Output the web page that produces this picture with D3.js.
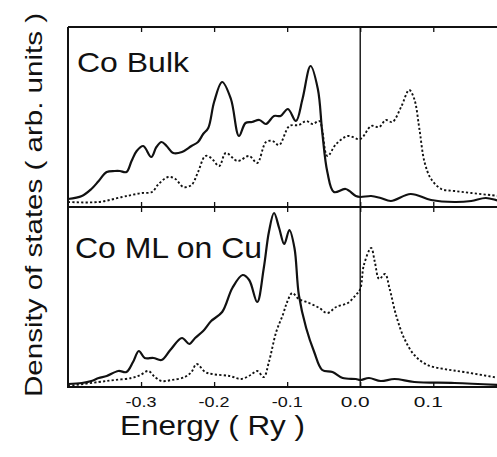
<!DOCTYPE html>
<html>
<head>
<meta charset="utf-8">
<script src="https://d3js.org/d3.v7.min.js"></script>
<style>
  html, body { margin: 0; padding: 0; background: #fff; }
  svg { display: block; font-family: "Liberation Sans", Arial, Helvetica, sans-serif; }
</style>
</head>
<body>
<div id="chart"></div>
<script>
// Density of states, Co bulk vs Co monolayer on Cu
// values (arb. units, 0 = panel baseline)

const tickValues = [-0.3, -0.2, -0.1, 0.0, 0.1];
const tickLabels = ["-0.3", "-0.2", "-0.1", "0.0", "0.1"];

// Co Bulk, solid curve
const bulkSolidE = [-0.400,-0.381,-0.368,-0.358,-0.347,-0.336,-0.329,-0.320,-0.313,-0.306,-0.297,-0.286,-0.279,-0.272,-0.265,-0.256,-0.244,-0.231,-0.222,-0.215,-0.208,-0.200,-0.189,-0.177,-0.166,-0.157,-0.148,-0.138,-0.129,-0.118,-0.109,-0.099,-0.088,-0.079,-0.068,-0.058,-0.052,-0.045,-0.036,-0.020,-0.006,0.000,0.015,0.028,0.042,0.069,0.097,0.129,0.152,0.172,0.190];
const bulkSolidV = [8,11,18,26,35,36,36,35,46,56,61,50,60,65,61,54,55,61,65,73,79,105,125,108,71,84,85,87,83,91,91,98,86,108,141,118,75,35,15,18,11,10,11,9,6,13,7,5,6,9,6];

// Co Bulk, dotted curve
const bulkDotE = [-0.400,-0.358,-0.326,-0.313,-0.299,-0.285,-0.276,-0.263,-0.253,-0.242,-0.231,-0.222,-0.212,-0.204,-0.193,-0.184,-0.168,-0.152,-0.141,-0.129,-0.120,-0.111,-0.097,-0.084,-0.074,-0.065,-0.056,-0.045,-0.033,-0.017,0.000,0.015,0.026,0.035,0.044,0.056,0.067,0.074,0.081,0.088,0.097,0.111,0.129,0.152,0.190];
const bulkDotV = [5,5,10,12,14,15,23,30,28,20,22,35,51,49,41,54,46,51,44,65,66,62,81,82,86,83,86,51,63,71,68,81,80,87,85,100,117,108,78,45,28,18,16,14,11];

// Co ML on Cu, solid curve
const mlSolidE = [-0.400,-0.381,-0.368,-0.358,-0.347,-0.331,-0.320,-0.311,-0.303,-0.295,-0.283,-0.272,-0.260,-0.244,-0.234,-0.226,-0.215,-0.204,-0.189,-0.175,-0.161,-0.152,-0.141,-0.132,-0.125,-0.118,-0.111,-0.104,-0.097,-0.090,-0.084,-0.074,-0.063,-0.052,-0.038,-0.024,-0.006,0.000,0.012,0.028,0.047,0.074,0.129,0.190];
const mlSolidV = [3,4,6,9,11,16,15,25,36,29,29,27,37,49,43,49,56,66,75,99,112,107,85,119,155,174,159,143,157,139,92,59,35,17,15,9,8,7,9,6,8,5,4,2];

// Co ML on Cu, dotted curve
const mlDotE = [-0.400,-0.358,-0.336,-0.313,-0.301,-0.290,-0.281,-0.272,-0.258,-0.240,-0.231,-0.224,-0.212,-0.203,-0.179,-0.163,-0.150,-0.141,-0.132,-0.125,-0.115,-0.106,-0.100,-0.093,-0.084,-0.070,-0.056,-0.045,-0.033,-0.017,-0.006,0.000,0.005,0.015,0.020,0.026,0.034,0.040,0.049,0.060,0.074,0.092,0.115,0.142,0.190];
const mlDotV = [1,5,7,9,12,16,10,6,7,10,15,23,15,13,11,8,12,16,10,25,55,72,85,94,88,84,79,74,80,84,92,98,122,139,125,108,113,99,72,49,32,22,18,15,9];

const width = 497, height = 457;
const left = 68, right = 498;
const panels = [
    {name: "Co Bulk", top: 27, bottom: 207, solidE: bulkSolidE, solidV: bulkSolidV, dotE: bulkDotE, dotV: bulkDotV},
    {name: "Co ML on Cu", top: 207, bottom: 387, solidE: mlSolidE, solidV: mlSolidV, dotE: mlDotE, dotV: mlDotV}
];

const svg = d3.select('#chart')
    .append('svg')
    .attr('width', width)
    .attr('height', height);

svg.append('rect').attr('width', width).attr('height', height).attr('fill', '#fff');

const x = d3.scaleLinear().domain([-0.4, 0.1886]).range([left, right]);

svg.append('clipPath').attr('id', 'plotClip')
    .append('rect').attr('x', left).attr('y', 27).attr('width', right - left).attr('height', 360);

const ink = '#111';

panels.forEach((p, i) => {
    const y = d3.scaleLinear().domain([0, 180]).range([p.bottom, p.top]);
    const line = d3.line()
        .x(d => x(d[0]))
        .y(d => y(d[1]))
        .curve(d3.curveCatmullRom.alpha(0.5));

    const g = svg.append('g').attr('clip-path', 'url(#plotClip)');

    g.append('path')
        .datum(d3.zip(p.dotE, p.dotV))
        .attr('d', line)
        .attr('fill', 'none')
        .attr('stroke', ink)
        .attr('stroke-width', 1.9)
        .attr('stroke-dasharray', '2.2,2.2');

    g.append('path')
        .datum(d3.zip(p.solidE, p.solidV))
        .attr('d', line)
        .attr('fill', 'none')
        .attr('stroke', ink)
        .attr('stroke-width', 2.2);

    // inward ticks on top and bottom of each panel (no labels here)
    const topAxis = svg.append('g')
        .attr('transform', `translate(0,${p.top})`)
        .call(d3.axisTop(x).tickValues(tickValues).tickSize(-5).tickFormat(''));
    const botAxis = svg.append('g')
        .attr('transform', `translate(0,${p.bottom})`)
        .call(d3.axisBottom(x).tickValues(tickValues).tickSize(-5).tickFormat(''));
    [topAxis, botAxis].forEach(a => {
        a.select('.domain').remove();
        a.selectAll('.tick text').remove();
        a.selectAll('.tick line').attr('stroke', ink).attr('stroke-width', 1.3);
    });

    // panel frame line
    svg.append('line')
        .attr('x1', left).attr('x2', width)
        .attr('y1', p.top).attr('y2', p.top)
        .attr('stroke', ink).attr('stroke-width', 2);

    svg.append('text')
        .attr('x', i === 0 ? 77 : 75)
        .attr('y', i === 0 ? 72 : 258)
        .attr('font-size', i === 0 ? 28 : 29)
        .attr('textLength', i === 0 ? 112 : 187)
        .attr('lengthAdjust', 'spacingAndGlyphs')
        .attr('fill', ink)
        .text(p.name);
});

// bottom axis line, left frame, zero line
svg.append('line')
    .attr('x1', left).attr('x2', width).attr('y1', 387).attr('y2', 387)
    .attr('stroke', ink).attr('stroke-width', 2);
svg.append('line')
    .attr('x1', left).attr('x2', left).attr('y1', 27).attr('y2', 388)
    .attr('stroke', ink).attr('stroke-width', 2);
svg.append('line')
    .attr('x1', x(0)).attr('x2', x(0)).attr('y1', 27).attr('y2', 387)
    .attr('stroke', ink).attr('stroke-width', 1.4);

// x tick labels
svg.append('g')
    .selectAll('text')
    .data(tickValues)
    .join('text')
    .attr('x', d => x(d) + (d >= 0 ? -5 : 0))
    .attr('y', 406.5)
    .attr('text-anchor', 'middle')
    .attr('font-size', 14)
    .attr('textLength', d => d < 0 ? 31 : 29)
    .attr('lengthAdjust', 'spacingAndGlyphs')
    .attr('fill', ink)
    .text((d, i) => tickLabels[i]);

svg.append('text')
    .attr('x', 120)
    .attr('y', 435)
    .attr('font-size', 28)
    .attr('textLength', 185)
    .attr('lengthAdjust', 'spacingAndGlyphs')
    .attr('fill', ink)
    .text('Energy ( Ry )');

svg.append('text')
    .attr('transform', 'translate(42,397) rotate(-90)')
    .attr('font-size', 24)
    .attr('textLength', 384)
    .attr('lengthAdjust', 'spacingAndGlyphs')
    .attr('fill', ink)
    .text('Density of states ( arb. units )');
</script>
</body>
</html>
